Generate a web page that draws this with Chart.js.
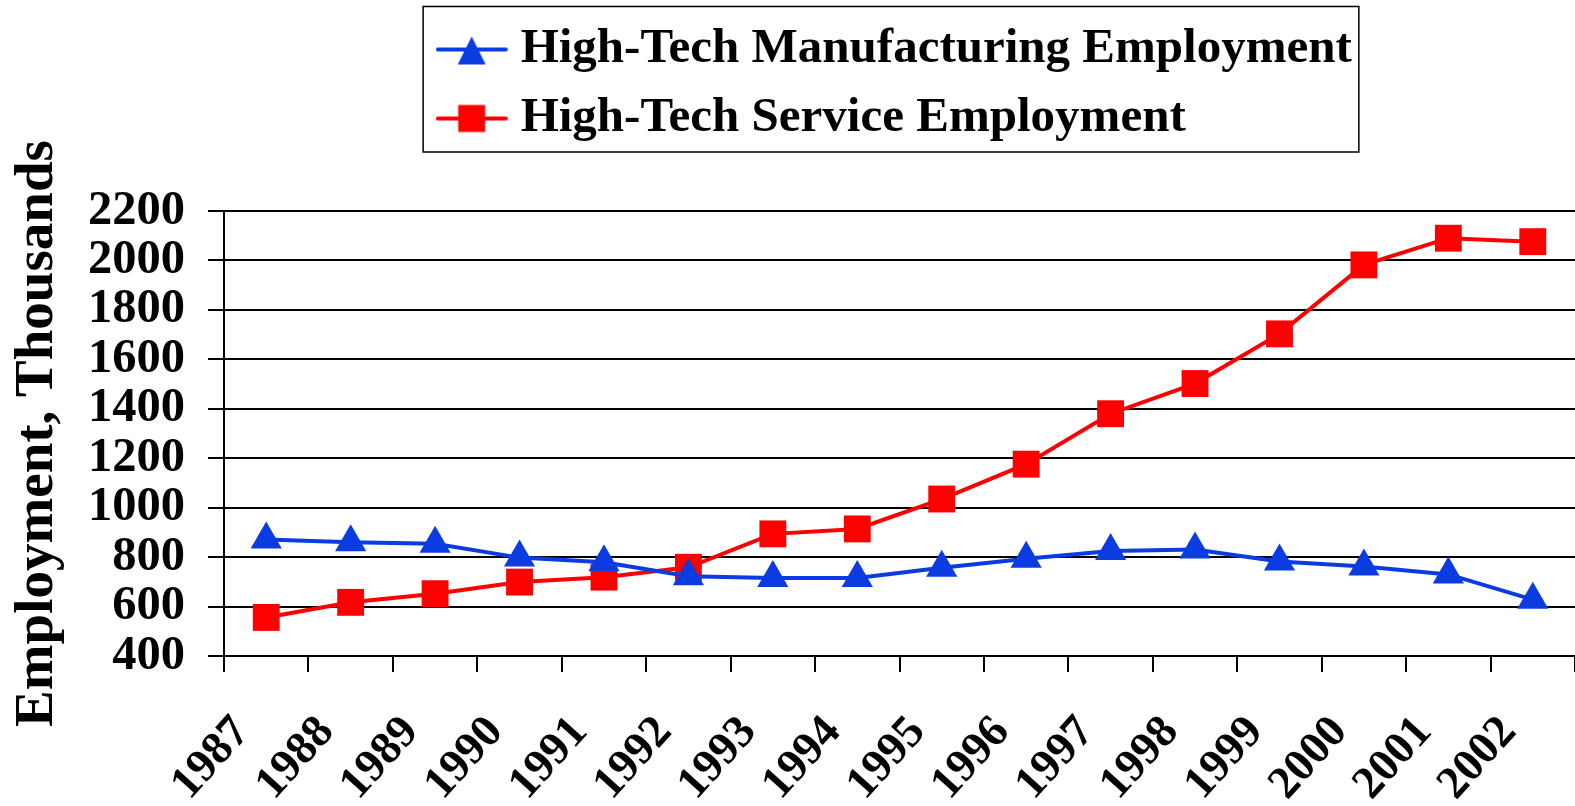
<!DOCTYPE html>
<html>
<head>
<meta charset="utf-8">
<script src="https://cdn.jsdelivr.net/npm/chart.js@4.4.1/dist/chart.umd.min.js"></script>
<style>
  html, body { margin: 0; padding: 0; background: #fff; }
  #wrap { width: 1575px; height: 806px; }
</style>
</head>
<body>
<div id="wrap"><canvas id="myChart"></canvas></div>
<script>
var years = ['1987', '1988', '1989', '1990', '1991', '1992', '1993', '1994',
             '1995', '1996', '1997', '1998', '1999', '2000', '2001', '2002'];
var manufacturing = [871, 860, 854, 798, 779, 723, 716, 716, 757, 793, 825, 831, 782, 762, 730, 628];
var services = [556, 617, 652, 699, 719, 759, 894, 914, 1035, 1176, 1380, 1502, 1703, 1982, 2090, 2076];
var yMin = 400, yMax = 2200, yStep = 200;
var seriesNames = ['High-Tech Manufacturing Employment', 'High-Tech Service Employment'];
var yTitle = 'Employment, Thousands';

var BLUE = '#0a3ce1';
var RED = '#ff0000';
var FONT = "'Liberation Serif', 'Times New Roman', serif";

// legend sample: short line with the marker on it
function legendSample(color, style) {
    var c = document.createElement('canvas');
    c.width = 72; c.height = 36;
    var g = c.getContext('2d');
    g.strokeStyle = color; g.lineWidth = 4; g.lineCap = 'round';
    g.beginPath(); g.moveTo(2, 18); g.lineTo(70, 18); g.stroke();
    g.fillStyle = color;
    g.beginPath();
    if (style === 'triangle') {
        g.moveTo(36, 5); g.lineTo(50, 33); g.lineTo(22, 33); g.closePath();
    } else {
        g.rect(22.5, 4.5, 27, 27);
    }
    g.fill();
    return c;
}
var samples = [legendSample(BLUE, 'triangle'), legendSample(RED, 'rect')];

// keep both legend rows starting at the same x, and draw a frame round it
var legendFrame = {
    id: 'legendFrame',
    afterLayout: function (chart) {
        var lg = chart.legend;
        if (!lg || !lg.lineWidths) return;
        var m = Math.max.apply(null, lg.lineWidths);
        lg.lineWidths = lg.lineWidths.map(function () { return m; });
    },
    afterDraw: function (chart) {
        var hb = chart.legend.legendHitBoxes;
        if (!hb || !hb.length) return;
        var ctx = chart.ctx;
        var left = hb[0].left - 24;
        var right = hb[0].left + hb[0].width + 7;
        var top = hb[0].top - 18.5;
        var last = hb[hb.length - 1];
        var bottom = last.top + last.height + 9;
        ctx.save();
        ctx.strokeStyle = '#000';
        ctx.lineWidth = 1.5;
        ctx.strokeRect(left, top, right - left, bottom - top);
        ctx.restore();
    }
};

var ctx = document.getElementById('myChart');
var myChart = new Chart(ctx, {
    type: 'line',
    data: {
        labels: years,
        datasets: [{
            label: seriesNames[0],
            data: manufacturing,
            borderColor: BLUE,
            backgroundColor: BLUE,
            borderWidth: 4,
            pointStyle: 'triangle',
            pointRadius: 18,
            pointBorderWidth: 0,
            tension: 0
        }, {
            label: seriesNames[1],
            data: services,
            borderColor: RED,
            backgroundColor: RED,
            borderWidth: 4,
            pointStyle: 'rect',
            pointRadius: 19,
            pointBorderWidth: 0,
            tension: 0
        }]
    },
    options: {
        responsive: true,
        maintainAspectRatio: false,
        animation: false,
        events: [],
        layout: {
            autoPadding: false,
            padding: { top: 5, left: 0, right: 0, bottom: 0 }
        },
        plugins: {
            legend: {
                position: 'top',
                fullSize: false,
                labels: {
                    usePointStyle: true,
                    pointStyleWidth: 49,
                    padding: 20,
                    color: '#000',
                    font: { family: FONT, size: 49, weight: 'bold' },
                    generateLabels: function (chart) {
                        return chart.data.datasets.map(function (ds, i) {
                            return {
                                text: ds.label,
                                pointStyle: samples[i],
                                fontColor: '#000',
                                lineWidth: 0,
                                hidden: false,
                                datasetIndex: i
                            };
                        });
                    }
                }
            },
            // empty block that only holds the gap between legend and plot
            title: {
                display: true,
                text: '',
                weight: 500,
                font: { size: 10, lineHeight: 1 },
                padding: { top: 0, bottom: 48 }
            },
            tooltip: { enabled: false }
        },
        scales: {
            x: {
                offset: true,
                grid: {
                    offset: true,
                    drawOnChartArea: false,
                    drawTicks: true,
                    tickLength: 16,
                    color: '#000',
                    lineWidth: 2
                },
                border: { display: true, color: '#000', width: 2 },
                ticks: {
                    autoSkip: false,
                    minRotation: 48,
                    maxRotation: 48,
                    padding: 34,
                    labelOffset: -24,
                    color: '#000',
                    font: { family: FONT, size: 46, weight: 'bold' }
                },
                // labels may run off the bottom edge, as in the original
                afterFit: function (scale) {
                    scale.height = 150;
                    scale.paddingRight = 0;
                }
            },
            y: {
                min: yMin,
                max: yMax,
                grid: {
                    color: '#000',
                    lineWidth: 2,
                    drawTicks: true,
                    tickLength: 16
                },
                border: { display: true, color: '#000', width: 2 },
                ticks: {
                    count: (yMax - yMin) / yStep + 1,
                    autoSkip: false,
                    padding: 23,
                    color: '#000',
                    font: { family: FONT, size: 48.5, weight: 'bold' },
                    callback: function (v) { return String(v); }
                },
                title: {
                    display: true,
                    text: yTitle,
                    color: '#000',
                    font: { family: FONT, size: 55, weight: 'bold', lineHeight: 1 },
                    padding: { top: 10, bottom: 0 }
                }
            }
        }
    },
    plugins: [legendFrame]
});
</script>
</body>
</html>
